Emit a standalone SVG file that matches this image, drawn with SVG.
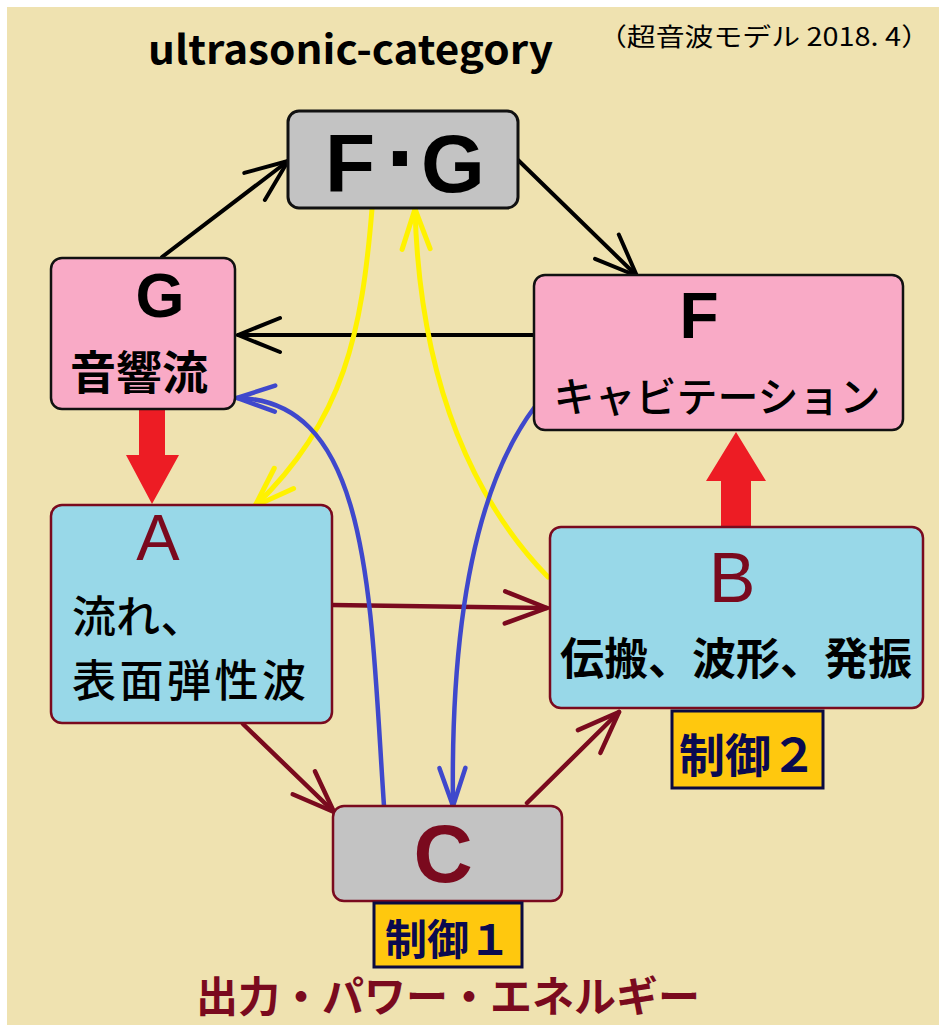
<svg xmlns="http://www.w3.org/2000/svg" width="939" height="1025" viewBox="0 0 939 1025">
<defs>
<style>
.jp{font-family:"Noto Sans CJK JP","Liberation Sans",sans-serif;font-weight:bold}
.lat{font-family:"Liberation Sans","Noto Sans CJK JP",sans-serif}
.pink{fill:#F9AAC6;stroke:#111;stroke-width:2.5}
.blue{fill:#98D8E8;stroke:#7A0A1E;stroke-width:2.5}
.gray{fill:#C3C3C3}
.ctl{fill:#FFC80E;stroke:#0A0A40;stroke-width:3}
.ln{fill:none;stroke-linecap:round}
</style>
<marker id="mk" viewBox="-48 -24 52 48" refX="0" refY="0" markerWidth="52" markerHeight="48" markerUnits="userSpaceOnUse" orient="auto">
<path d="M-42,-17 L0,0 L-42,17" fill="none" stroke="#000" stroke-width="4" stroke-linecap="round" stroke-linejoin="round"/>
</marker>
<marker id="mr" viewBox="-48 -24 52 48" refX="0" refY="0" markerWidth="52" markerHeight="48" markerUnits="userSpaceOnUse" orient="auto">
<path d="M-42,-16 L0,0 L-42,16" fill="none" stroke="#7A0A1E" stroke-width="4.5" stroke-linecap="round" stroke-linejoin="round"/>
</marker>
<marker id="my" viewBox="-48 -24 52 48" refX="0" refY="0" markerWidth="52" markerHeight="48" markerUnits="userSpaceOnUse" orient="auto">
<path d="M-40,-14 L0,0 L-40,14" fill="none" stroke="#FFF200" stroke-width="5" stroke-linecap="round" stroke-linejoin="round"/>
</marker>
<marker id="mb" viewBox="-48 -24 52 48" refX="0" refY="0" markerWidth="52" markerHeight="48" markerUnits="userSpaceOnUse" orient="auto">
<path d="M-38,-13 L0,0 L-38,13" fill="none" stroke="#3F48CC" stroke-width="4.5" stroke-linecap="round" stroke-linejoin="round"/>
</marker>
</defs>
<rect x="0" y="0" width="939" height="1025" fill="#FFFFFF"/>
<rect x="7" y="7" width="932" height="1018" fill="#EFE2B0"/>

<text class="jp" x="148" y="64" font-size="40" textLength="405" lengthAdjust="spacingAndGlyphs">ultrasonic-category</text>
<text class="jp" x="598" y="46" font-size="25" textLength="332" lengthAdjust="spacingAndGlyphs" style="font-weight:normal">（超音波モデル 2018. 4）</text>

<g id="connectors">
<line class="ln" x1="162" y1="257" x2="288" y2="161" stroke="#000" stroke-width="4" marker-end="url(#mk)"/>
<line class="ln" x1="518" y1="160" x2="637" y2="276" stroke="#000" stroke-width="4" marker-end="url(#mk)"/>
<line class="ln" x1="534" y1="335" x2="238" y2="335" stroke="#000" stroke-width="4" marker-end="url(#mk)"/>
<polygon points="139,409 165,409 165,455 179,455 152,504 126,455 139,455" fill="#ED1C24"/>
<polygon points="721,528 751,528 751,481 766,481 736,432 706,481 721,481" fill="#ED1C24"/>
<line class="ln" x1="332" y1="605" x2="547" y2="608" stroke="#7A0A1E" stroke-width="4.5" marker-end="url(#mr)"/>
<line class="ln" x1="243" y1="724" x2="334" y2="812" stroke="#7A0A1E" stroke-width="4.5" marker-end="url(#mr)"/>
<line class="ln" x1="527" y1="803" x2="619" y2="712" stroke="#7A0A1E" stroke-width="4.5" marker-end="url(#mr)"/>
<path class="ln" d="M372,209 C362,330 345,420 255,506" stroke="#FFF200" stroke-width="5" marker-end="url(#my)"/>
<path class="ln" d="M548,577 C478,505 420,390 415,209" stroke="#FFF200" stroke-width="5" marker-end="url(#my)"/>
<path class="ln" d="M384,806 C370,600 372,400 237,398" stroke="#3F48CC" stroke-width="4.5" marker-end="url(#mb)"/>
<path class="ln" d="M534,408 C482,478 450,600 453,806" stroke="#3F48CC" stroke-width="4.5" marker-end="url(#mb)"/>
</g>

<g id="node-FG">
<rect x="288" y="111" width="230" height="97" rx="11" class="gray" stroke="#111" stroke-width="3"/>
<text class="lat" y="192" font-size="82" font-weight="bold"><tspan x="325">F</tspan><tspan x="386" font-size="100">·</tspan><tspan x="421">G</tspan></text>
</g>

<g id="node-G">
<rect x="51" y="258" width="184" height="151" rx="11" class="pink"/>
<text class="lat" x="160" y="317" font-size="63" font-weight="bold" text-anchor="middle">G</text>
<text class="jp" x="139" y="389" font-size="46" text-anchor="middle">音響流</text>
</g>

<g id="node-F">
<rect x="534" y="275" width="369" height="155" rx="11" class="pink"/>
<text class="lat" x="699" y="338" font-size="64" font-weight="bold" text-anchor="middle">F</text>
<text class="jp" x="717" y="412" font-size="41" style="font-weight:500" text-anchor="middle">キャビテーション</text>
</g>

<g id="node-A">
<rect x="51" y="505" width="281" height="218" rx="11" class="blue"/>
<text class="lat" x="158" y="560" font-size="65" fill="#7A0A1E" text-anchor="middle">A</text>
<text class="jp" x="72" y="633" font-size="44" style="font-weight:500">流れ、</text>
<text class="jp" x="72" y="697" font-size="44" style="font-weight:500" textLength="234" lengthAdjust="spacing">表面弾性波</text>
</g>

<g id="node-B">
<rect x="550" y="527" width="373" height="181" rx="11" class="blue"/>
<text class="lat" x="732" y="602" font-size="70" fill="#7A0A1E" text-anchor="middle">B</text>
<text class="jp" x="736" y="675" font-size="44" text-anchor="middle">伝搬、波形、発振</text>
</g>

<g id="node-ctl2">
<rect x="672" y="711" width="151" height="77" class="ctl"/>
<text class="jp" x="748" y="772" font-size="46" fill="#0A0A50" text-anchor="middle">制御２</text>
</g>

<g id="node-C">
<rect x="333" y="806" width="229" height="95" rx="11" class="gray" stroke="#7A0A1E" stroke-width="2.5"/>
<text class="lat" x="443" y="882" font-size="82" font-weight="bold" fill="#7A0A1E" text-anchor="middle">C</text>
</g>

<g id="node-ctl1">
<rect x="374" y="903" width="148" height="64" class="ctl"/>
<text class="jp" x="448" y="955" font-size="42" fill="#0A0A50" text-anchor="middle">制御１</text>
</g>

<text class="jp" x="448" y="1012" font-size="42" fill="#7A0A1E" text-anchor="middle">出力・パワー・エネルギー</text>
</svg>
